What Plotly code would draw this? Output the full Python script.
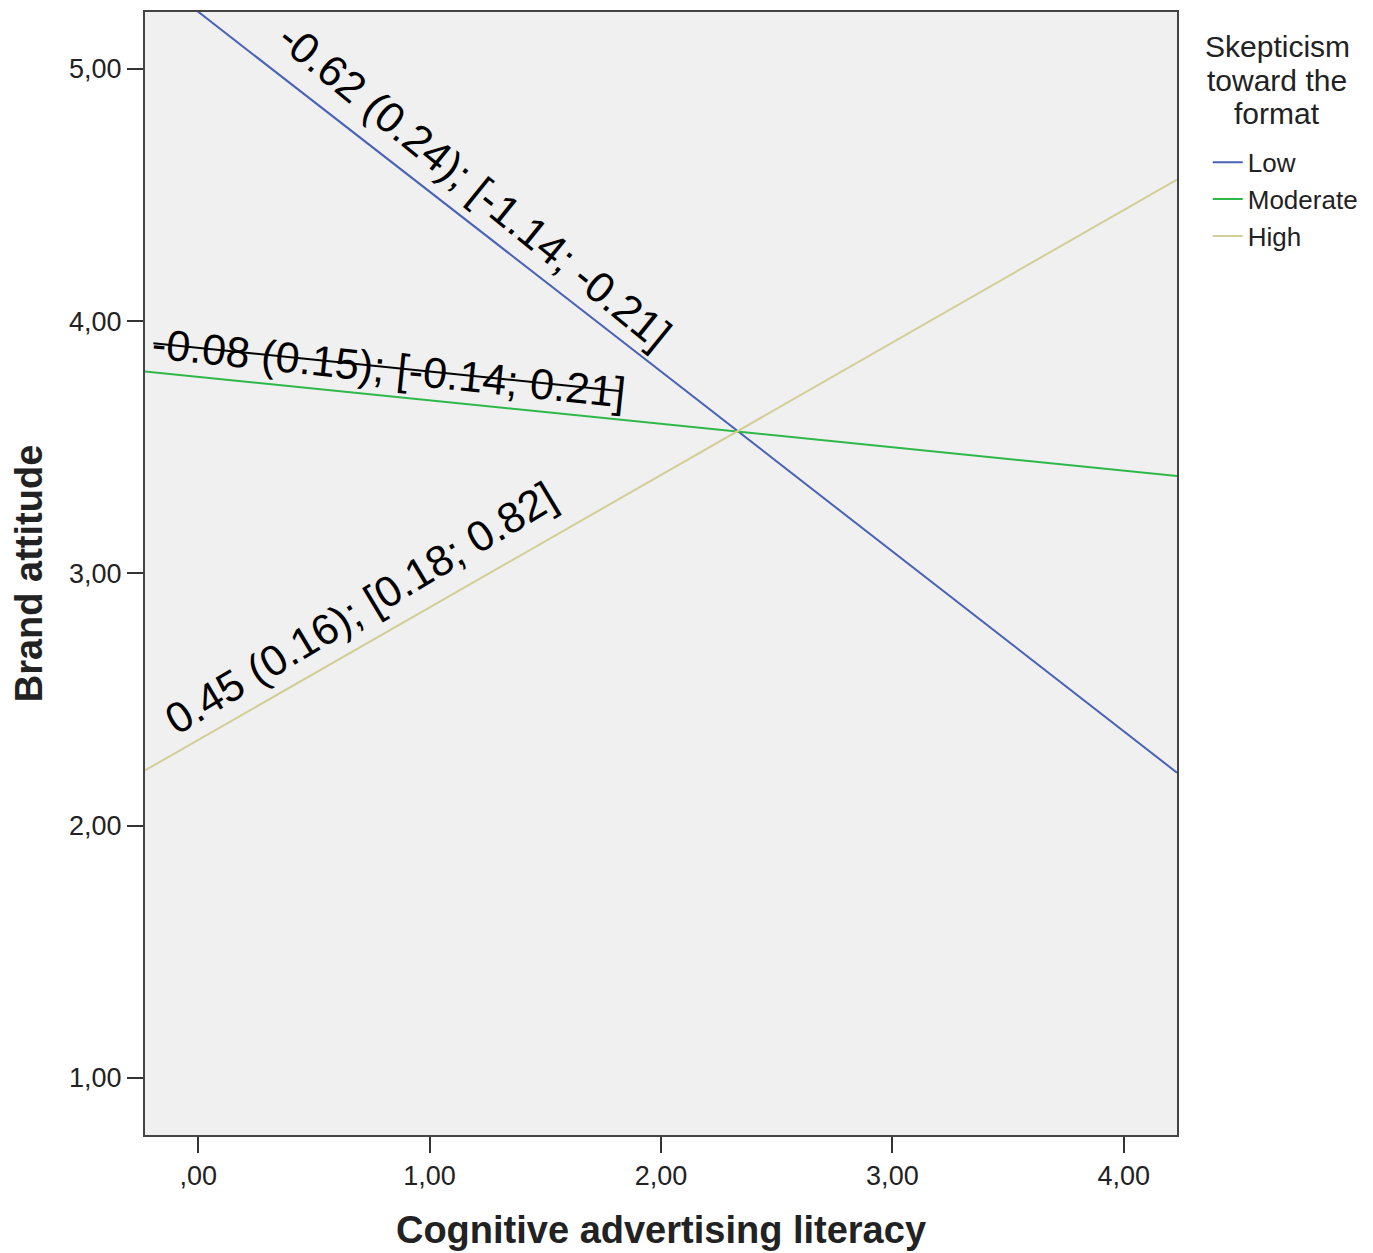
import plotly.graph_objects as go

# Data
x_ends = [-0.23, 4.23]
series_names = ["Low", "Moderate", "High"]
low_vals = [5.39, 2.21]
moderate_vals = [3.80, 3.386]
high_vals = [2.219, 4.561]
series_colors = ["#4a62b4", "#2eb848", "#d3ce97"]

x_tickvals = [0, 1, 2, 3, 4]
x_ticktext = [",00", "1,00", "2,00", "3,00", "4,00"]
y_tickvals = [1, 2, 3, 4, 5]
y_ticktext = ["1,00", "2,00", "3,00", "4,00", "5,00"]

labels = ["-0.62 (0.24); [-1.14; -0.21]",
          "-0.08 (0.15); [-0.14; 0.21]",
          "0.45 (0.16); [0.18; 0.82]"]
label_x = [1.197, 0.825, 0.70]
label_y = [4.537, 3.813, 2.863]
label_angle = [39, 6, -31]

legend_title_lines = ["Skepticism", "toward the", "format"]
legend_title_y = [0.9689, 0.9387, 0.9093]

FONT = "Liberation Sans, Arial, sans-serif"

fig = go.Figure()
for name, vals, col in zip(series_names, [low_vals, moderate_vals, high_vals], series_colors):
    fig.add_trace(go.Scatter(x=x_ends, y=vals, mode="lines", name=name,
                             line=dict(color=col, width=2)))

for t, ax, ay, ang in zip(labels, label_x, label_y, label_angle):
    fig.add_annotation(x=ax, y=ay, text=t, showarrow=False, textangle=ang,
                       font=dict(family=FONT, size=43, color="black"),
                       xanchor="center", yanchor="middle")

# strike-through line drawn over the moderate label
fig.add_shape(type="line", x0=-0.194, y0=3.912, x1=1.832, y1=3.722,
              line=dict(color="black", width=2))

# legend title (centered, multi-line)
for line_text, ly in zip(legend_title_lines, legend_title_y):
    fig.add_annotation(xref="paper", yref="paper", x=1.097, y=ly,
                       xanchor="center", yanchor="middle",
                       text=line_text, showarrow=False,
                       font=dict(size=30, family=FONT, color="#222"))

fig.update_layout(
    width=1373, height=1253,
    margin=dict(l=137, r=204, t=2, b=126),
    paper_bgcolor="white", plot_bgcolor="#f0f0f0",
    font=dict(family=FONT, color="#222"),
    showlegend=True,
    legend=dict(x=1.0298, y=0.887, xanchor="left", yanchor="top",
                font=dict(size=26, family=FONT, color="#222"),
                bgcolor="rgba(0,0,0,0)", tracegroupgap=0),
    xaxis=dict(range=[-0.23, 4.23], tickvals=x_tickvals, ticktext=x_ticktext,
               ticks="outside", ticklen=16, tickwidth=2, tickcolor="#333",
               showgrid=False, zeroline=False, showline=True, mirror=True,
               linecolor="#444", linewidth=2,
               tickfont=dict(size=27, family=FONT, color="#222"),
               title=dict(text="<b>Cognitive advertising literacy</b>", standoff=26,
                          font=dict(size=38, family=FONT, color="#222"))),
    yaxis=dict(range=[0.774, 5.225], tickvals=y_tickvals, ticktext=y_ticktext,
               ticks="outside", ticklen=16, tickwidth=2, tickcolor="#333",
               showgrid=False, zeroline=False, showline=True, mirror=True,
               linecolor="#444", linewidth=2,
               tickfont=dict(size=27, family=FONT, color="#222"),
               title=dict(text="<b>Brand attitude</b>", standoff=20,
                          font=dict(size=38, family=FONT, color="#222"))),
)

fig.write_html("out.html")
